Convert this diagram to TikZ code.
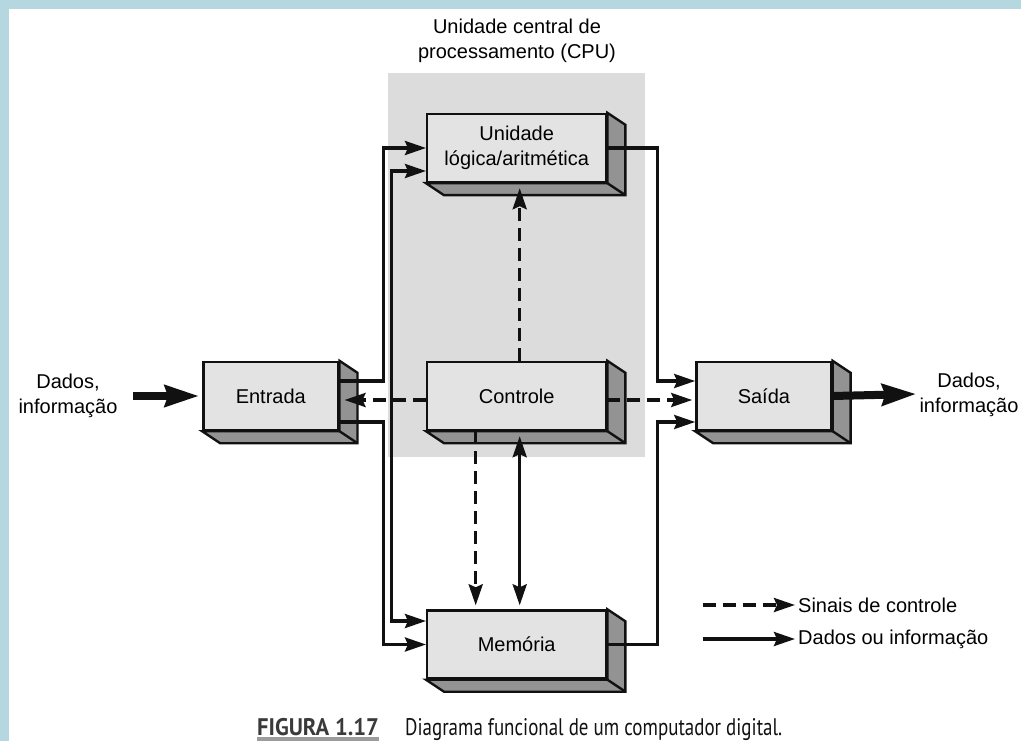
\documentclass[tikz,border=0pt]{standalone}
\usepackage{fontspec}
\setmainfont{Liberation Sans}
\newfontfamily\capfont[FakeStretch=0.79]{PT Sans}
\newfontfamily\capboldfont[FakeStretch=0.94]{PT Sans Bold}
\usetikzlibrary{arrows.meta}

\definecolor{framebl}{HTML}{B5D7E0}
\definecolor{cpugray}{HTML}{DCDCDC}
\definecolor{facegray}{HTML}{E3E3E3}
\definecolor{sidegray}{HTML}{939393}
\definecolor{ink}{HTML}{111111}
\definecolor{capgray}{HTML}{3A3A3A}
\definecolor{bargray}{HTML}{9C9C9C}

\tikzset{
  dtip/.tip={Stealth[length=21pt,width=14pt,inset=3pt]},
  btip/.tip={Stealth[length=34pt,width=21pt,inset=3pt]},
}

\begin{document}
\begin{tikzpicture}[x=1pt,y=-1pt,
  font=\fontsize{20}{25}\selectfont,
  blk/.style={draw=ink, line width=2.4pt, fill=facegray, inner sep=0pt,
    minimum height=68pt, align=center, line join=miter},
  wideblk/.style={blk, minimum width=179pt},
  narrowblk/.style={blk, minimum width=135pt},
  side/.style={fill=sidegray, draw=ink, line width=2.4pt, line join=miter},
  data/.style={draw=ink, line width=3.3pt, line join=miter, -dtip},
  both/.style={draw=ink, line width=3.3pt, line join=miter, dtip-dtip},
  ctrl/.style={data, dash pattern=on 13pt off 7pt},
  bigarrow/.style={draw=ink, line width=8pt, -btip},
  lbl/.style={inner sep=0pt, align=center},
]
\useasboundingbox (0,0) rectangle (1021,741);

% page frame
\fill[framebl] (0,0) rectangle (1021,741);
\fill[white] (9,9) rectangle (1021,741);

% CPU region
\fill[cpugray] (388,73) rectangle (645,457);
\node[lbl] (cputitle) at (517,40.5) {Unidade central de\\processamento (CPU)};

% blocks (front faces)
\node[wideblk]   (alu) at (516.7,148)  {Unidade\\lógica/aritmética};
\node[wideblk]   (ctl) at (516.7,396)  {Controle};
\node[narrowblk] (ent) at (270.8,396)  {Entrada};
\node[narrowblk] (sai) at (763.9,396)  {Saída};
\node[wideblk]   (mem) at (516.7,644.5) {Memória};

% extruded side and bottom faces
\foreach \n in {alu,ctl,ent,sai,mem}{
  \path[side] (\n.north east) -- ++(18,12) -- ([shift={(18,12)}]\n.south east)
    -- ([shift={(18,12)}]\n.south west) -- (\n.south west) -- (\n.south east) -- cycle;
  \draw[side] (\n.south east) -- ++(18,12);
}

% outer data labels
\node[lbl] (din)  at (68,396)  {Dados,\\informação};
\node[lbl] (dout) at (969,395) {Dados,\\informação};
\draw[bigarrow] ([xshift=15pt]din.east) -- ([xshift=-3pt]ent.west);
\draw[bigarrow] (sai.east) -- ([xshift=-3pt,yshift=1pt]dout.west);

% data paths
\draw[data] ([yshift=15pt]ent.east) -- ++(44,0) |- (alu.west);
\draw[data] ([yshift=-26pt]ent.east) -- ++(44,0) |- (mem.west);
\draw[both] ([yshift=-23pt]alu.west) -- ++(-34.5,0) |- ([yshift=23.5pt]mem.west);
\draw[data] (alu.east) -- ++(50,0) |- ([yshift=15pt]sai.west);
\draw[data] (mem.east) -- ++(50,0) |- ([yshift=-26pt]sai.west);
\draw[both] ([xshift=3pt,yshift=-5pt]ctl.south) -- ([xshift=3pt,yshift=4pt]mem.north);

% control signals
\draw[ctrl] ([xshift=3pt]ctl.north) -- ([xshift=3pt,yshift=-5pt]alu.south);
\draw[ctrl] ([yshift=-4pt]ctl.west) -- ([xshift=5pt,yshift=-4pt]ent.east);
\draw[ctrl] ([yshift=-4pt]ctl.east) -- ([xshift=-3pt,yshift=-4pt]sai.west);
\draw[ctrl] ([xshift=-41pt]ctl.south) -- ([xshift=-41pt,yshift=4pt]mem.north);

% legend
\node[anchor=west, inner sep=0pt] (lgctrl) at (798,605) {Sinais de controle};
\node[anchor=west, inner sep=0pt] (lgdata) at (798,639) {Dados ou informação};
\coordinate (lgc0) at (703,605);
\coordinate (lgd0) at (703,639);
\draw[ctrl] (lgc0) -- ([xshift=-3pt]lgctrl.west);
\draw[data] (lgd0) -- ([xshift=-3pt]lgdata.west);

% caption
\node[anchor=base west, inner sep=0pt, text=capgray,
  font=\capboldfont\fontsize{24}{28}\selectfont] (fignum) at (257,735) {FIGURA 1.17};
\fill[bargray] ([yshift=-2pt]fignum.base west) rectangle ([yshift=-6.5pt]fignum.base east);
\node[anchor=base west, inner sep=0pt, text=ink,
  font=\capfont\fontsize{24}{28}\selectfont] (figcap) at (405,735)
  {Diagrama funcional de um computador digital.};
\end{tikzpicture}
\end{document}
